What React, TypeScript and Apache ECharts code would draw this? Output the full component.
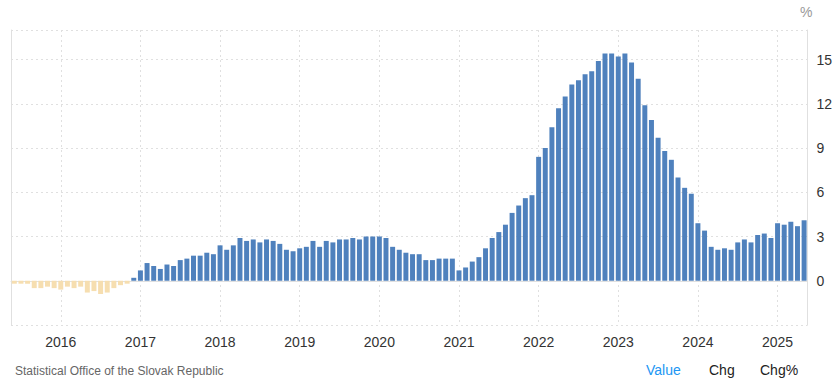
import React, { useEffect, useRef } from "react";
import * as echarts from "echarts";

const months = ["Jan","Feb","Mar","Apr","May","Jun","Jul","Aug","Sep","Oct","Nov","Dec"];
const startYear = 2015;
const startMonth = 5; // June 2015 (0-based)

const values2015 = [-0.2, -0.2, -0.2, -0.5, -0.5, -0.4, -0.5];
const values2016 = [-0.6, -0.4, -0.5, -0.4, -0.8, -0.7, -0.9, -0.8, -0.5, -0.3, -0.2, 0.2];
const values2017 = [0.7, 1.2, 1.0, 0.8, 1.1, 1.0, 1.4, 1.5, 1.7, 1.7, 1.9, 1.8];
const values2018 = [2.4, 2.1, 2.4, 2.9, 2.7, 2.8, 2.6, 2.8, 2.7, 2.5, 2.1, 2.0];
const values2019 = [2.2, 2.3, 2.7, 2.3, 2.7, 2.6, 2.8, 2.8, 2.9, 2.8, 3.0, 3.0];
const values2020 = [3.0, 2.9, 2.3, 2.1, 1.9, 1.8, 1.8, 1.4, 1.4, 1.5, 1.5, 1.5];
const values2021 = [0.7, 0.9, 1.3, 1.6, 2.2, 2.9, 3.3, 3.8, 4.6, 5.1, 5.6, 5.8];
const values2022 = [8.4, 9.0, 10.4, 11.7, 12.5, 13.3, 13.6, 14.0, 14.2, 14.9, 15.4, 15.4];
const values2023 = [15.2, 15.4, 14.8, 13.7, 11.9, 10.9, 9.7, 8.8, 8.2, 7.0, 6.3, 5.9];
const values2024 = [3.9, 3.4, 2.3, 2.1, 2.2, 2.1, 2.6, 2.8, 2.6, 3.1, 3.2, 2.9];
const values2025 = [3.9, 3.8, 4.0, 3.7, 4.1];

const yTicks = [0, 3, 6, 9, 12, 15];

const values = [
  ...values2015, ...values2016, ...values2017, ...values2018, ...values2019,
  ...values2020, ...values2021, ...values2022, ...values2023, ...values2024, ...values2025,
];

const categories = values.map((_, i) => {
  const m = startMonth + i;
  const y = startYear + Math.floor(m / 12);
  return `${months[m % 12]} ${y}`;
});

const isJan = (idx: number) => categories[idx] && categories[idx].startsWith("Jan");

export default function App() {
  const ref = useRef<HTMLDivElement>(null);
  useEffect(() => {
    if (!ref.current) return;
    const chart = echarts.init(ref.current, null, { renderer: "svg" });
    const font = "'Liberation Sans', Arial, sans-serif";
    chart.setOption({
      animation: false,
      textStyle: { fontFamily: font },
      grid: { left: 11, right: 27, top: 30, bottom: 65, containLabel: false },
      xAxis: {
        type: "category",
        data: categories,
        boundaryGap: true,
        axisLine: { show: true, lineStyle: { color: "#e0e0e0", width: 1 } },
        axisTick: { show: false, alignWithLabel: true, interval: (i: number) => isJan(i) },
        splitLine: {
          show: true,
          alignWithLabel: true,
          interval: (i: number) => isJan(i),
          lineStyle: { color: "#e0e0e0", type: [2, 3], width: 1 },
        },
        axisLabel: {
          interval: (i: number) => isJan(i),
          formatter: (v: string) => v.split(" ")[1],
          color: "#333",
          fontSize: 14,
          margin: 10,
          fontFamily: font,
        },
      },
      yAxis: [
        {
          type: "value",
          position: "right",
          min: -3,
          max: 17,
          interval: 3,
          axisLine: { show: true, lineStyle: { color: "#e0e0e0" } },
          axisTick: { show: false },
          splitLine: { show: true, lineStyle: { color: "#e0e0e0", type: [2, 3] } },
          axisLabel: {
            color: "#333",
            fontSize: 14,
            margin: 9,
            fontFamily: font,
            formatter: (v: number) => (yTicks.includes(v) ? String(v) : ""),
          },
        },
        {
          type: "value",
          position: "left",
          min: -3,
          max: 17,
          interval: 3,
          axisLine: { show: true, lineStyle: { color: "#e0e0e0" } },
          axisTick: { show: false },
          splitLine: { show: false },
          axisLabel: { show: false },
        },
      ],
      series: [
        {
          type: "bar",
          data: values,
          barCategoryGap: "25%",
          itemStyle: {
            color: (p: any) => (p.value < 0 ? "#f6deb0" : "#4f81bd"),
          },
        },
      ],
      graphic: [
        { type: "text", left: 800, top: 5, style: { text: "%", fill: "#999", fontSize: 14, fontFamily: font } },
        { type: "text", left: 15, top: 365, style: { text: "Statistical Office of the Slovak Republic", fill: "#666", fontSize: 12, fontFamily: font } },
        { type: "text", left: 646, top: 363, style: { text: "Value", fill: "#2196f3", fontSize: 14, fontFamily: font } },
        { type: "text", left: 709, top: 363, style: { text: "Chg", fill: "#222", fontSize: 14, fontFamily: font } },
        { type: "text", left: 760, top: 363, style: { text: "Chg%", fill: "#222", fontSize: 14, fontFamily: font } },
      ],
    });
    return () => chart.dispose();
  }, []);
  return <div ref={ref} style={{ width: 835, height: 390, position: "absolute", left: 0, top: 0 }} />;
}
